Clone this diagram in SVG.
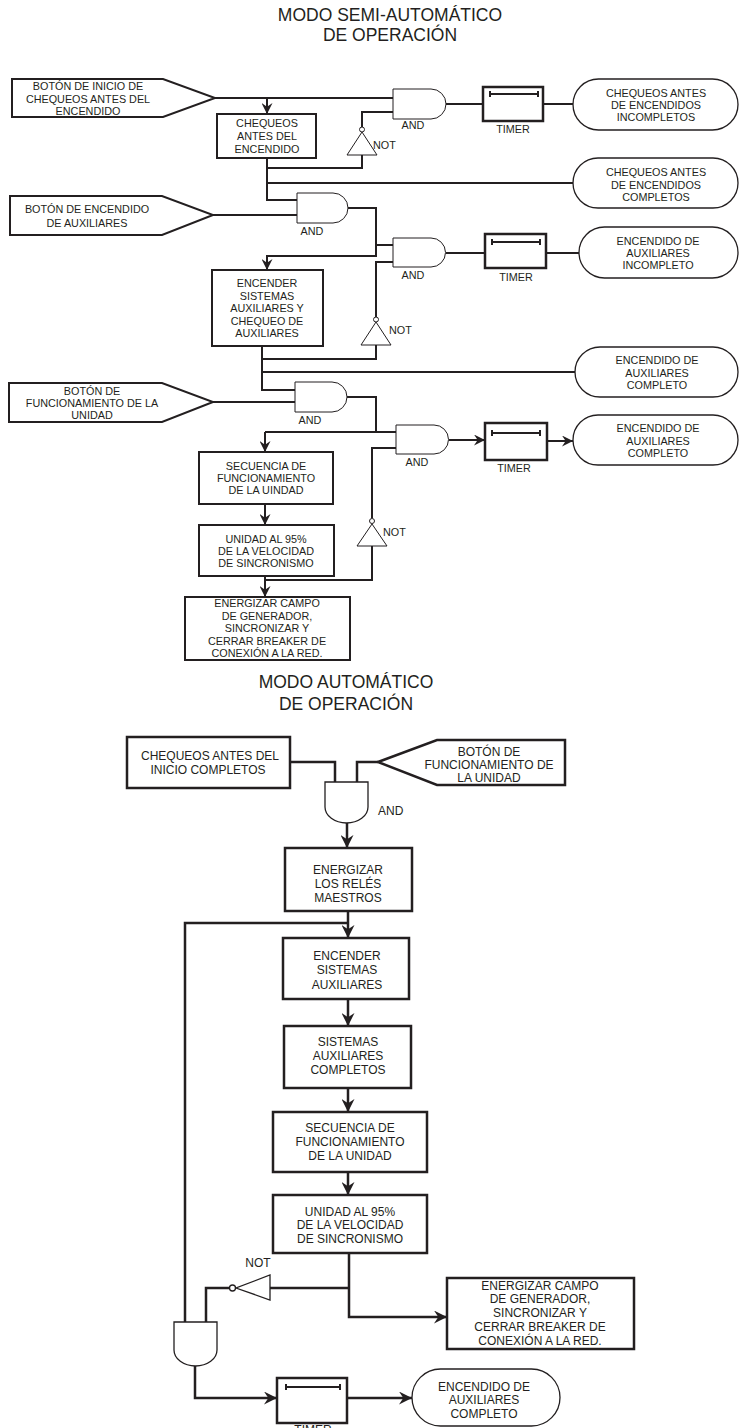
<svg xmlns="http://www.w3.org/2000/svg" width="739" height="1428" viewBox="0 0 739 1428">
<style>
text{font-family:"Liberation Sans",Arial,sans-serif;fill:#231f20;text-anchor:middle}
.t{font-size:17.5px}
.s{font-size:10.8px}
.a{font-size:12px}
.box{fill:#fff;stroke:#231f20;stroke-width:2}
.boxa{fill:#fff;stroke:#231f20;stroke-width:2.5}
.gate{fill:#fff;stroke:#231f20;stroke-width:1}
.gatea{fill:#fff;stroke:#231f20;stroke-width:1.3}
.oval{fill:#fff;stroke:#231f20;stroke-width:1.3}
.tim{fill:#fff;stroke:#231f20;stroke-width:2.5}
.bar{fill:none;stroke:#231f20;stroke-width:2}
.ln{fill:none;stroke:#231f20;stroke-width:2}
.lna{fill:none;stroke:#231f20;stroke-width:2.5}
</style>
<defs>
<marker id="ar" viewBox="0 0 12 12" refX="12" refY="6" markerWidth="11" markerHeight="11" markerUnits="userSpaceOnUse" orient="auto">
<path d="M0,0 L12,6 L0,12 L4,6 Z" fill="#231f20"/>
</marker>
<marker id="arb" viewBox="0 0 12 12" refX="12" refY="6" markerWidth="13" markerHeight="13" markerUnits="userSpaceOnUse" orient="auto">
<path d="M0,0 L12,6 L0,12 L4,6 Z" fill="#231f20"/>
</marker>
</defs>
<rect width="739" height="1428" fill="#fff"/>

<g id="title-semi">
<text class="t" x="390" y="21">MODO SEMI-AUTOMÁTICO</text>
<text class="t" x="390" y="41">DE OPERACIÓN</text>
</g>

<g id="connectors-semi">
<path class="ln" d="M215,98 H393"/>
<path class="ln" d="M267,98 V114" marker-end="url(#ar)"/>
<path class="ln" d="M267,158 V200 H297"/>
<path class="ln" d="M267,168 H362 V155"/>
<path class="ln" d="M362,127 V112 H393"/>
<path class="ln" d="M267,183 H573"/>
<path class="ln" d="M213,215 H297"/>
<path class="ln" d="M446,104 H483"/>
<path class="ln" d="M543,104 H573"/>
<path class="ln" d="M348,208 H376 V256 H267 V270" marker-end="url(#ar)"/>
<path class="ln" d="M376,245 H393"/>
<path class="ln" d="M376,317 V262 H393"/>
<path class="ln" d="M376,345 V359 H262"/>
<path class="ln" d="M262,346 V390 H295"/>
<path class="ln" d="M262,372 H575"/>
<path class="ln" d="M446,253 H485"/>
<path class="ln" d="M546,253 H579"/>
<path class="ln" d="M213,402 H295"/>
<path class="ln" d="M347,397 H376 V432"/>
<path class="ln" d="M265,432 H396"/>
<path class="ln" d="M265,432 V452" marker-end="url(#ar)"/>
<path class="ln" d="M372,518 V448 H396"/>
<path class="ln" d="M372,546 V580 H265"/>
<path class="ln" d="M265,504 V525" marker-end="url(#ar)"/>
<path class="ln" d="M265,576 V597" marker-end="url(#ar)"/>
<path class="ln" d="M449,440 H485" marker-end="url(#ar)"/>
<path class="ln" d="M547,441 H573" marker-end="url(#ar)"/>
</g>

<g id="p1">
<polygon class="box" points="12,79 163,79 215,98 163,117 12,117"/>
<text class="s" x="88" y="90">BOTÓN DE INICIO DE</text>
<text class="s" x="88" y="102.5">CHEQUEOS ANTES DEL</text>
<text class="s" x="88" y="115">ENCENDIDO</text>
</g>
<g id="b1">
<rect class="box" x="217" y="114" width="99" height="44"/>
<text class="s" x="267" y="127">CHEQUEOS</text>
<text class="s" x="267" y="140">ANTES DEL</text>
<text class="s" x="267" y="153">ENCENDIDO</text>
</g>
<g id="and1">
<path class="gate" d="M393,89 H431 A15,15 0 0 1 431,119 H393 Z"/>
<text class="s" x="413" y="129">AND</text>
</g>
<g id="not1">
<polygon class="gate" points="362,132 377,155 347,155"/>
<circle class="gate" cx="362" cy="129.5" r="2.5"/>
<text class="s" x="373" y="149" style="text-anchor:start">NOT</text>
</g>
<g id="timer1">
<rect class="tim" x="483" y="87" width="60" height="34"/>
<path class="bar" d="M490,94 H538 M490,91 V97 M538,91 V97"/>
<text class="s" x="513" y="133">TIMER</text>
</g>
<g id="o1">
<rect class="oval" x="573" y="79" width="165" height="51" rx="25.5"/>
<text class="s" x="656" y="97">CHEQUEOS ANTES</text>
<text class="s" x="656" y="109">DE ENCENDIDOS</text>
<text class="s" x="656" y="121">INCOMPLETOS</text>
</g>
<g id="o2">
<rect class="oval" x="573" y="158" width="165" height="50" rx="25"/>
<text class="s" x="656" y="176">CHEQUEOS ANTES</text>
<text class="s" x="656" y="189">DE ENCENDIDOS</text>
<text class="s" x="656" y="201">COMPLETOS</text>
</g>
<g id="p2">
<polygon class="box" points="10,196 162,196 213,215 162,235 10,235"/>
<text class="s" x="87" y="213">BOTÓN DE ENCENDIDO</text>
<text class="s" x="87" y="227">DE AUXILIARES</text>
</g>
<g id="and2">
<path class="gate" d="M297,193 H333 A15,15 0 0 1 333,223 H297 Z"/>
<text class="s" x="312" y="235">AND</text>
</g>
<g id="and3">
<path class="gate" d="M393,238 H431 A14.5,14.5 0 0 1 431,267 H393 Z"/>
<text class="s" x="413" y="279">AND</text>
</g>
<g id="timer2">
<rect class="tim" x="485" y="234" width="61" height="34"/>
<path class="bar" d="M492,242 H540 M492,239 V245 M540,239 V245"/>
<text class="s" x="516" y="281">TIMER</text>
</g>
<g id="o3">
<rect class="oval" x="579" y="227" width="159" height="51" rx="25.5"/>
<text class="s" x="658" y="245">ENCENDIDO DE</text>
<text class="s" x="658" y="257">AUXILIARES</text>
<text class="s" x="658" y="269">INCOMPLETO</text>
</g>
<g id="b2">
<rect class="box" x="212" y="270" width="111" height="76"/>
<text class="s" x="267" y="287">ENCENDER</text>
<text class="s" x="267" y="300">SISTEMAS</text>
<text class="s" x="267" y="312">AUXILIARES Y</text>
<text class="s" x="267" y="325">CHEQUEO DE</text>
<text class="s" x="267" y="337">AUXILIARES</text>
</g>
<g id="not2">
<polygon class="gate" points="376,322 391,345 361,345"/>
<circle class="gate" cx="376" cy="319.5" r="2.5"/>
<text class="s" x="389" y="334" style="text-anchor:start">NOT</text>
</g>
<g id="o4">
<rect class="oval" x="575" y="347" width="163" height="50" rx="25"/>
<text class="s" x="657" y="364">ENCENDIDO DE</text>
<text class="s" x="657" y="377">AUXILIARES</text>
<text class="s" x="657" y="389">COMPLETO</text>
</g>
<g id="p3">
<polygon class="box" points="9,383 162,383 213,402 162,422 9,422"/>
<text class="s" x="92" y="395">BOTÓN DE</text>
<text class="s" x="92" y="407">FUNCIONAMIENTO DE LA</text>
<text class="s" x="92" y="419">UNIDAD</text>
</g>
<g id="and4">
<path class="gate" d="M295,382 H332 A15,15 0 0 1 332,412 H295 Z"/>
<text class="s" x="310" y="424">AND</text>
</g>
<g id="and5">
<path class="gate" d="M396,425 H434 A14.5,14.5 0 0 1 434,454 H396 Z"/>
<text class="s" x="417" y="466">AND</text>
</g>
<g id="timer3">
<rect class="tim" x="485" y="423" width="62" height="37"/>
<path class="bar" d="M492,433 H540 M492,430 V436 M540,430 V436"/>
<text class="s" x="514" y="472">TIMER</text>
</g>
<g id="o5">
<rect class="oval" x="573" y="415" width="165" height="50" rx="25"/>
<text class="s" x="658" y="432">ENCENDIDO DE</text>
<text class="s" x="658" y="445">AUXILIARES</text>
<text class="s" x="658" y="457">COMPLETO</text>
</g>
<g id="b3">
<rect class="box" x="199" y="452" width="134" height="52"/>
<text class="s" x="266" y="470">SECUENCIA DE</text>
<text class="s" x="266" y="482">FUNCIONAMIENTO</text>
<text class="s" x="266" y="494">DE LA UINDAD</text>
</g>
<g id="not3">
<polygon class="gate" points="372,524 387,546 357,546"/>
<circle class="gate" cx="372" cy="521" r="2.5"/>
<text class="s" x="383" y="536" style="text-anchor:start">NOT</text>
</g>
<g id="b4">
<rect class="box" x="199" y="525" width="135" height="51"/>
<text class="s" x="266" y="543">UNIDAD AL 95%</text>
<text class="s" x="266" y="555">DE LA VELOCIDAD</text>
<text class="s" x="266" y="567">DE SINCRONISMO</text>
</g>
<g id="b5">
<rect class="box" x="185" y="597" width="165" height="63"/>
<text class="s" x="267" y="607">ENERGIZAR CAMPO</text>
<text class="s" x="267" y="620">DE GENERADOR,</text>
<text class="s" x="267" y="632">SINCRONIZAR Y</text>
<text class="s" x="267" y="645">CERRAR BREAKER DE</text>
<text class="s" x="267" y="657">CONEXIÓN A LA RED.</text>
</g>

<g id="title-auto">
<text class="t" x="346" y="688">MODO AUTOMÁTICO</text>
<text class="t" x="346" y="710">DE OPERACIÓN</text>
</g>

<g id="connectors-auto">
<path class="lna" d="M290,762 H335 V782"/>
<path class="lna" d="M378,762 H357 V782"/>
<path class="lna" d="M347,823 V848" marker-end="url(#arb)"/>
<path class="lna" d="M348,911 V938" marker-end="url(#arb)"/>
<path class="lna" d="M348,923 H185 V1322"/>
<path class="lna" d="M348,999 V1026" marker-end="url(#arb)"/>
<path class="lna" d="M348,1088 V1112" marker-end="url(#arb)"/>
<path class="lna" d="M348,1172 V1195" marker-end="url(#arb)"/>
<path class="lna" d="M349,1253 V1317 H447" marker-end="url(#arb)"/>
<path class="lna" d="M349,1288 H270"/>
<path class="lna" d="M229.5,1288 H206 V1322"/>
<path class="lna" d="M195,1366 V1398 H277" marker-end="url(#arb)"/>
<path class="lna" d="M347,1398 H412" marker-end="url(#arb)"/>
</g>

<g id="a1">
<rect class="boxa" x="127" y="737" width="163" height="51"/>
<text class="a" x="210" y="760">CHEQUEOS ANTES DEL</text>
<text class="a" x="208" y="774">INICIO COMPLETOS</text>
</g>
<g id="pa">
<polygon class="boxa" points="378,762 437,740 565,740 565,785 437,785"/>
<text class="a" x="489" y="756">BOTÓN DE</text>
<text class="a" x="489" y="769">FUNCIONAMIENTO DE</text>
<text class="a" x="489" y="782">LA UNIDAD</text>
</g>
<g id="and6">
<path class="gatea" d="M325,782 H368 V807 A21.5,16 0 0 1 325,807 Z"/>
<text class="a" x="378" y="815" style="text-anchor:start">AND</text>
</g>
<g id="a2">
<rect class="boxa" x="285" y="848" width="127" height="63"/>
<text class="a" x="348" y="874">ENERGIZAR</text>
<text class="a" x="348" y="888">LOS RELÉS</text>
<text class="a" x="348" y="902">MAESTROS</text>
</g>
<g id="a3">
<rect class="boxa" x="283" y="938" width="126" height="61"/>
<text class="a" x="347" y="960">ENCENDER</text>
<text class="a" x="347" y="974">SISTEMAS</text>
<text class="a" x="347" y="989">AUXILIARES</text>
</g>
<g id="a4">
<rect class="boxa" x="284" y="1026" width="127" height="62"/>
<text class="a" x="348" y="1046">SISTEMAS</text>
<text class="a" x="348" y="1060">AUXILIARES</text>
<text class="a" x="348" y="1074">COMPLETOS</text>
</g>
<g id="a5">
<rect class="boxa" x="273" y="1112" width="154" height="60"/>
<text class="a" x="350" y="1132">SECUENCIA DE</text>
<text class="a" x="350" y="1146">FUNCIONAMIENTO</text>
<text class="a" x="350" y="1160">DE LA UNIDAD</text>
</g>
<g id="a6">
<rect class="boxa" x="273" y="1195" width="154" height="58"/>
<text class="a" x="350" y="1216">UNIDAD AL 95%</text>
<text class="a" x="350" y="1229">DE LA VELOCIDAD</text>
<text class="a" x="350" y="1243">DE SINCRONISMO</text>
</g>
<g id="not4">
<polygon class="gatea" points="270,1275 270,1300 236,1288"/>
<circle class="gatea" cx="232.5" cy="1288" r="3"/>
<text class="a" x="258" y="1267">NOT</text>
</g>
<g id="a7">
<rect class="boxa" x="447" y="1278" width="187" height="71"/>
<text class="a" x="540" y="1290">ENERGIZAR CAMPO</text>
<text class="a" x="540" y="1303">DE GENERADOR,</text>
<text class="a" x="540" y="1317">SINCRONIZAR Y</text>
<text class="a" x="540" y="1331">CERRAR BREAKER DE</text>
<text class="a" x="540" y="1345">CONEXIÓN A LA RED.</text>
</g>
<g id="and7">
<path class="gatea" d="M174,1322 H217 V1350 A21.5,16 0 0 1 174,1350 Z"/>
</g>
<g id="timer4">
<rect class="tim" x="277" y="1378" width="70" height="45"/>
<path class="bar" d="M286,1387 H340 M286,1384 V1390 M340,1384 V1390"/>
<text class="a" x="313" y="1434">TIMER</text>
</g>
<g id="oa">
<rect class="oval" x="412" y="1369" width="148" height="57" rx="28.5"/>
<text class="a" x="484" y="1391">ENCENDIDO DE</text>
<text class="a" x="484" y="1404">AUXILIARES</text>
<text class="a" x="484" y="1418">COMPLETO</text>
</g>
</svg>
